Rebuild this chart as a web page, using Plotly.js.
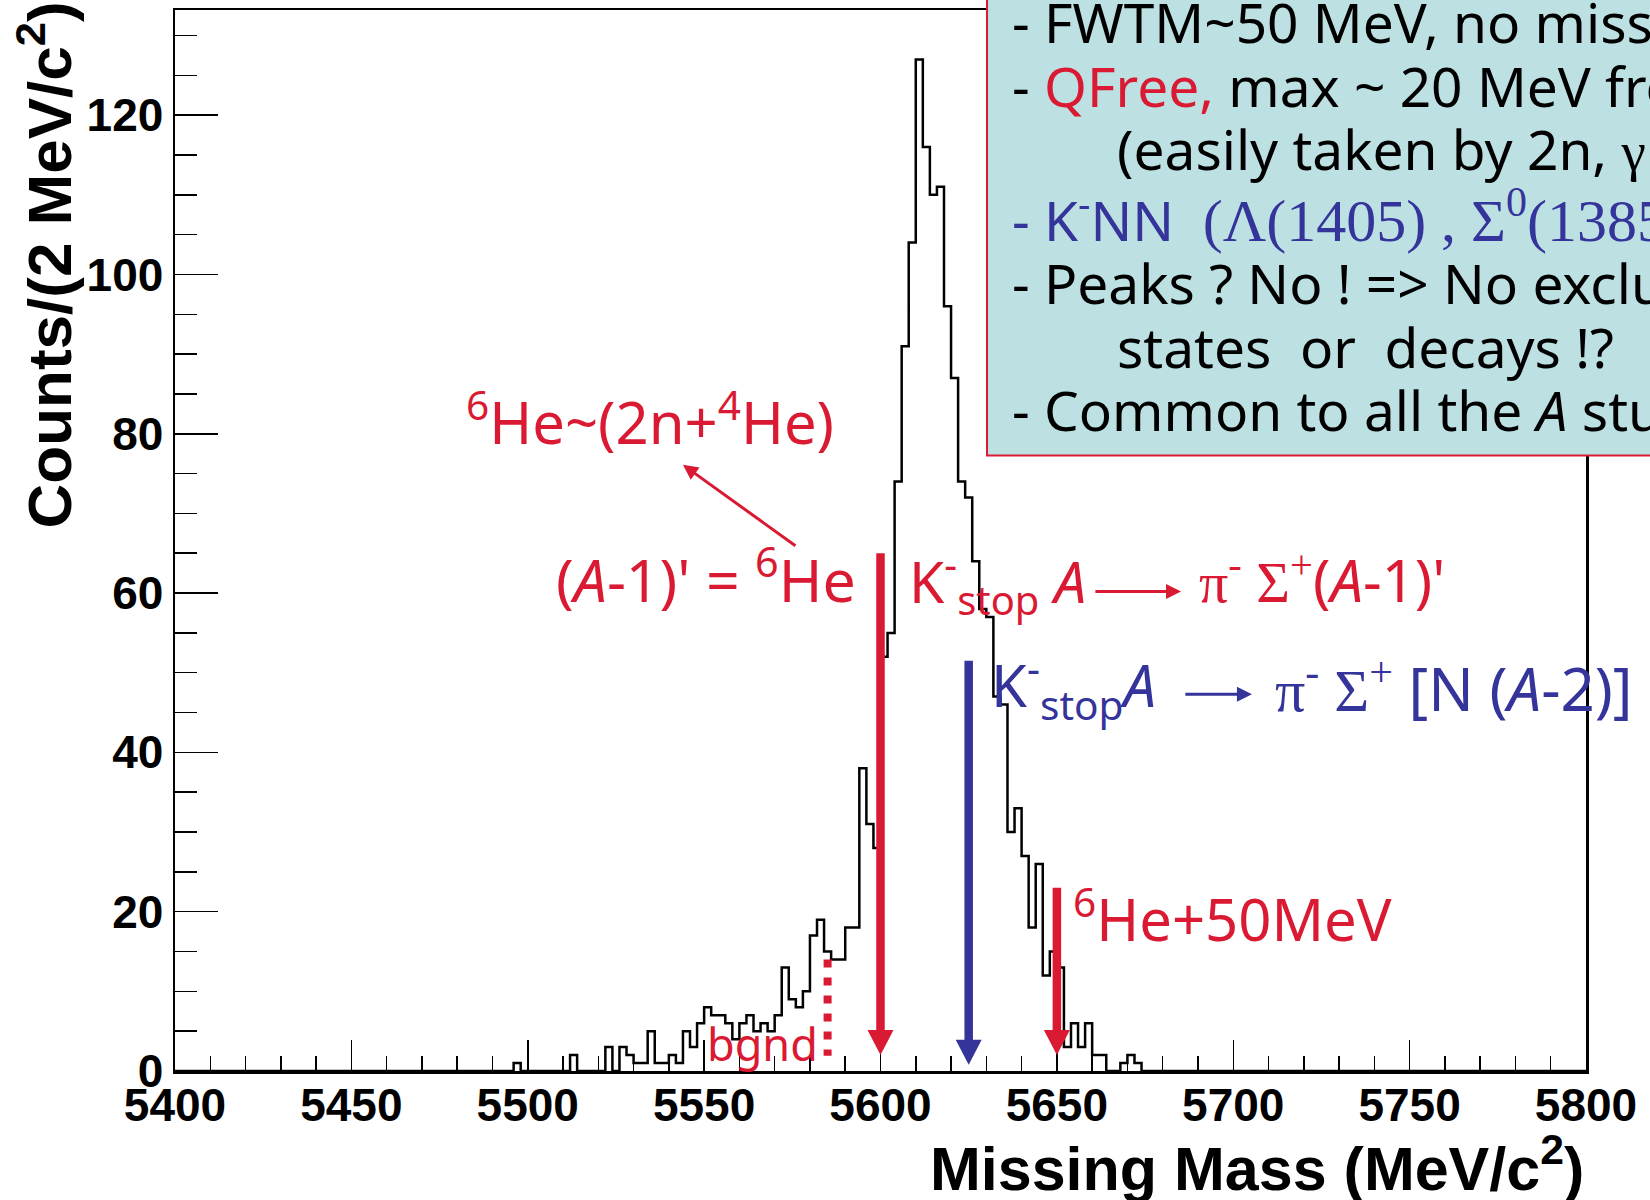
<!DOCTYPE html>
<html>
<head>
<meta charset="utf-8">
<script src="https://cdn.plot.ly/plotly-3.0.1.min.js"></script>
<style>
  html, body { margin: 0; padding: 0; background: #ffffff; }
  #chart { width: 1650px; height: 1200px; }
</style>
</head>
<body>
<div id="chart"></div>
<script>
// ---------------- data ----------------
const xRange = [5400, 5800];          // MeV/c^2
const yRange = [0, 133.2];            // counts
const binWidth = 2;                   // MeV/c^2 per bin
const firstBinLow = 5496;             // lower edge of first listed bin
const counts = [
  1, 0, 0, 0, 0, 0, 0, 0, 2, 0,       // 5496 .. 5514
  0, 0, 0, 3, 0, 3, 2, 1, 1, 5,       // 5516 .. 5534
  1, 1, 2, 1, 5, 3, 6, 8, 7, 7,       // 5536 .. 5554
  6, 4, 6, 7, 5, 6, 5, 7, 13, 9,      // 5556 .. 5574
  8, 10, 17, 19, 15, 14, 14, 18, 18, 38, // 5576 .. 5594
  31, 28, 52, 55, 74, 91, 104, 127, 116, 110, // 5596 .. 5614
  111, 96, 87, 74, 72, 64, 58, 57, 47, 46,    // 5616 .. 5634
  30, 33, 27, 18, 26, 12, 15, 13, 3, 6,       // 5636 .. 5654
  3, 6, 2, 2, 0, 0, 1, 2, 1                   // 5656 .. 5672
];

// vertical marker arrows: position, top, tip (counts)
const arrowX    = [5600, 5625, 5650];
const arrowTop  = [65, 51.5, 23];
const arrowTip  = [2, 0.8, 2];
const arrowClr  = ['red', 'blue', 'red'];
// background marker (dotted)
const bgndX = 5585, bgndTop = 14, bgndBottom = 1.9;

// axis tick settings
const xMajor = 50, xMinor = 10, yMajor = 20, yMinor = 5;

const RED = '#D91A32';
const BLUE = '#34349A';
const TXT = "'Comic Sans MS', 'Noto Sans', sans-serif";
const SERIF = "Liberation Serif";

// ---------------- histogram outline ----------------
const hx = [xRange[0]], hy = [0];
counts.forEach((c, i) => { hx.push(firstBinLow + i * binWidth); hy.push(c); });
hx.push(firstBinLow + counts.length * binWidth); hy.push(0);
hx.push(xRange[1]); hy.push(0);

const hist = {
  type: 'scatter', mode: 'lines', x: hx, y: hy,
  line: { shape: 'hv', color: '#000000', width: 2.5 },
  hoverinfo: 'skip', showlegend: false
};

// ---------------- shapes ----------------
const colorOf = k => (k === 'red' ? RED : BLUE);
const shapes = [];
arrowX.forEach((x, i) => {
  shapes.push({ type: 'line', xref: 'x', yref: 'y', x0: x, x1: x,
    y0: arrowTop[i], y1: arrowTip[i] + 2.5,
    line: { color: colorOf(arrowClr[i]), width: 8.5 }, layer: 'above' });
  shapes.push({ type: 'path', xref: 'x', yref: 'y',
    xsizemode: 'pixel', ysizemode: 'pixel', xanchor: x, yanchor: arrowTip[i],
    path: 'M -13 25 L 13 25 L 0 0 Z',
    fillcolor: colorOf(arrowClr[i]), line: { width: 0 }, layer: 'above' });
});
shapes.push({ type: 'line', xref: 'x', yref: 'y', x0: bgndX, x1: bgndX,
  y0: bgndTop, y1: bgndBottom, line: { color: RED, width: 8, dash: '8px,10px' }, layer: 'above' });
// info box (extends past the top/right edges like the reference)
shapes.push({ type: 'rect', xref: 'paper', yref: 'paper',
  x0: 0.5755, x1: 1.15, y0: 0.58, y1: 1.05,
  fillcolor: '#BDE0E3', line: { color: RED, width: 2 }, layer: 'above' });

// ---------------- annotations ----------------
const f = (size, color, fam) => ({ family: fam || TXT, size: size, color: color });
const sp = (t, size) => '<span style="font-family:' + SERIF + (size ? ';font-size:' + size + 'px' : '') + '">' + t + '</span>';
const ann = [];
// in-plot labels (data coordinates)
ann.push({ x: 5534.7, y: 81.8, xref: 'x', yref: 'y', xanchor: 'center', yanchor: 'middle',
  text: '<sup>6</sup>He~(2n+<sup>4</sup>He)', showarrow: false, font: f(58, RED) });
ann.push({ x: 5593.6, y: 62.2, xref: 'x', yref: 'y', xanchor: 'right', yanchor: 'middle',
  text: '(<i>A</i>-1)\' = <sup>6</sup>He', showarrow: false, font: f(59, RED) });
ann.push({ x: 5544.0, y: 76.1, ax: 5576.3, ay: 65.8, xref: 'x', yref: 'y', axref: 'x', ayref: 'y',
  text: '', showarrow: true, arrowhead: 2, arrowsize: 1, arrowwidth: 3, arrowcolor: RED });
ann.push({ x: 5607.5, y: 61.4, xref: 'x', yref: 'y', xanchor: 'left', yanchor: 'middle',
  text: 'K<sup>-</sup><sub>stop</sub> <i>A</i>', showarrow: false, font: f(57, RED) });
ann.push({ x: 5685.2, y: 60.2, ax: 5660.5, ay: 60.2, xref: 'x', yref: 'y', axref: 'x', ayref: 'y',
  text: '', showarrow: true, arrowhead: 2, arrowsize: 1, arrowwidth: 3, arrowcolor: RED });
ann.push({ x: 5689.7, y: 61.7, xref: 'x', yref: 'y', xanchor: 'left', yanchor: 'middle',
  text: sp('π<sup>-</sup> Σ<sup>+</sup>') + '(<i>A</i>-1)\'', showarrow: false, font: f(58, RED) });
ann.push({ x: 5630.8, y: 48.3, xref: 'x', yref: 'y', xanchor: 'left', yanchor: 'middle',
  text: 'K<sup>-</sup><sub>stop</sub><i>A</i>', showarrow: false, font: f(58, BLUE) });
ann.push({ x: 5705.3, y: 47.3, ax: 5686.0, ay: 47.3, xref: 'x', yref: 'y', axref: 'x', ayref: 'y',
  text: '', showarrow: true, arrowhead: 2, arrowsize: 1, arrowwidth: 3, arrowcolor: BLUE });
ann.push({ x: 5711.3, y: 48.1, xref: 'x', yref: 'y', xanchor: 'left', yanchor: 'middle',
  text: sp('π<sup>-</sup> Σ<sup>+</sup>') + ' [N (<i>A</i>-2)]', showarrow: false, font: f(60, BLUE) });
ann.push({ x: 5654.0, y: 19.5, xref: 'x', yref: 'y', xanchor: 'left', yanchor: 'middle',
  text: '<sup>6</sup>He+50MeV', showarrow: false, font: f(58, RED) });
ann.push({ x: 5550.3, y: 3.5, xref: 'x', yref: 'y', xanchor: 'left', yanchor: 'middle',
  text: 'bgnd', showarrow: false, font: f(45, RED) });

// info box text (paper coordinates)
const boxX = 0.5918, boxXi = 0.6662;
const boxLines = [
  { x: boxX,  y: 0.9887, t: '- FWTM~50 MeV, no missing' },
  { x: boxX,  y: 0.9293, t: '- <span style="color:' + RED + '">QFree,</span> max ~ 20 MeV from' },
  { x: boxXi, y: 0.8699, t: '(easily taken by 2n, ' + sp('γ') + ' or' },
  { x: boxX,  y: 0.8049, t: '<span style="color:' + BLUE + '">- K<sup>-</sup>NN  ' + sp('(Λ(1405) , Σ<sup>0</sup>(1385))', 60) + '</span>' },
  { x: boxX,  y: 0.7436, t: '- Peaks ? No ! => No exclusive' },
  { x: boxXi, y: 0.6824, t: 'states  or  decays !?' },
  { x: boxX,  y: 0.6230, t: '- Common to all the <i>A</i> studied' }
];
boxLines.forEach(l => ann.push({ x: l.x, y: l.y, xref: 'paper', yref: 'paper',
  xanchor: 'left', yanchor: 'middle', text: l.t, showarrow: false, font: f(55, '#000000') }));

// axis titles
ann.push({ x: 0, y: 1, xref: 'paper', yref: 'paper', xanchor: 'center', yanchor: 'top',
  xshift: -131, yshift: 10, textangle: -90, showarrow: false,
  text: '<b>Counts/(2 MeV/c<sup>2</sup>)</b>', font: f(62, '#000000', 'Liberation Sans') });
ann.push({ x: 1, y: 0, xref: 'paper', yref: 'paper', xanchor: 'right', yanchor: 'middle',
  yshift: -93, showarrow: false,
  text: '<b>Missing Mass (MeV/c<sup>2</sup>)</b>', font: f(61, '#000000', 'Liberation Sans') });

const tickFont = { family: 'Liberation Sans', size: 46, color: '#000000', weight: 'bold' };

const layout = {
  width: 1650, height: 1200,
  margin: { l: 175, r: 64, t: 10, b: 129, pad: 0 },
  paper_bgcolor: '#ffffff', plot_bgcolor: '#ffffff',
  showlegend: false,
  xaxis: {
    range: xRange, tickmode: 'linear', tick0: xRange[0], dtick: xMajor,
    ticks: 'inside', ticklen: 31, tickwidth: 1.5, tickcolor: '#000000',
    minor: { dtick: xMinor, ticks: 'inside', ticklen: 15, tickwidth: 1.5, tickcolor: '#000000', showgrid: false },
    showgrid: false, zeroline: false, showline: true, linecolor: '#000000', linewidth: 2.5, mirror: true,
    tickfont: tickFont, ticklabelstandoff: -8, fixedrange: true
  },
  yaxis: {
    range: yRange, tickmode: 'linear', tick0: 0, dtick: yMajor,
    ticks: 'inside', ticklen: 43, tickwidth: 1.5, tickcolor: '#000000',
    minor: { dtick: yMinor, ticks: 'inside', ticklen: 22, tickwidth: 1.5, tickcolor: '#000000', showgrid: false },
    showgrid: false, zeroline: false, showline: true, linecolor: '#000000', linewidth: 2.5, mirror: true,
    tickfont: tickFont, fixedrange: true
  },
  shapes: shapes,
  annotations: ann
};

Plotly.newPlot('chart', [hist], layout, { displayModeBar: false, staticPlot: true });
</script>
</body>
</html>
